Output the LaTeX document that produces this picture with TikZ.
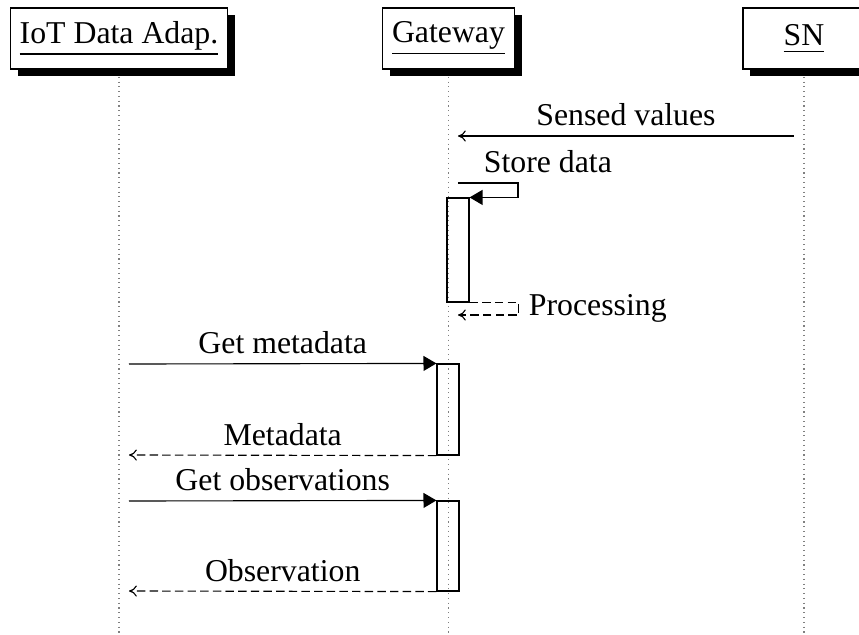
\documentclass[tikz,border=0pt]{standalone}
\usepackage{fontspec}
\setmainfont{Liberation Serif}
\usepackage{tikz}
\usetikzlibrary{arrows.meta}
\usetikzlibrary{shadows}

\begin{document}
\begin{tikzpicture}[x=0.0125cm,y=-0.0125cm,font=\fontsize{11.3}{13}\selectfont,
  actor/.style={draw,fill=white,minimum width=1.525cm,minimum height=0.7625cm,
    drop shadow={shadow xshift=0.09cm,shadow yshift=-0.09cm,fill=black,opacity=1}},
  life/.style={gray,dash pattern=on 0.4pt off 1.3pt},
  act/.style={draw,minimum width=0.275cm,inner sep=0pt},
  call/.style={-{Triangle[length=4.6pt,width=5.3pt]}},
  sig/.style={-{To[length=2.8pt,width=4pt]}},
  ret/.style={dash pattern=on 3pt off 1.5pt,-{To[length=2.8pt,width=4pt]}}]
\useasboundingbox (0,0) rectangle (859,635);
\node[actor] (iot) at (119,38.5) {\underline{IoT Data Adap.}};
\node[actor] (gw) at (448.5,38.5) {\underline{Gateway}};
\node[actor] (sn) at (804,38.5) {\underline{SN\rule[-0.8pt]{0pt}{0pt}}};
\coordinate (end) at (0,635);
\draw[life] ([yshift=-0.09cm]iot.south) -- (iot |- end);
\draw[life] ([yshift=-0.09cm]gw.south) -- (gw |- end);
\draw[life] ([yshift=-0.09cm]sn.south) -- (sn |- end);
% activations
\node[act,minimum height=1.3cm] (act1) at (458,250) {};
\node[act,minimum height=1.1375cm] (act2) at (448,409.5) {};
\node[act,minimum height=1.125cm] (act3) at (448,546) {};
% messages
\coordinate (sv) at (794,136);
\draw[sig] (sv) -- (sv -| act1) node[midway,above] (svl) {Sensed values};
\coordinate (sd) at (458,183);
\draw[call] (sd) -- ++(60,0) |- (act1.north east);
\node[above right] (sdl) at (474,183) {Store data};
\coordinate (pr) at (458,315);
\draw[ret] (act1.south east) -- ++(49,0) |- (pr);
\node[right] (prl) at (519,308) {Processing};
\coordinate (gm) at (129,364);
\draw[call] (gm) -- (act2.north west) node[midway,above] (gml) {Get metadata};
\coordinate (md) at (129,455);
\draw[ret] (act2.south west) -- (md) node[midway,above] (mdl) {Metadata};
\coordinate (go) at (129,501);
\draw[call] (go) -- (act3.north west) node[midway,above] (gol) {Get observations};
\coordinate (ob) at (129,591);
\draw[ret] (act3.south west) -- (ob) node[midway,above] (obl) {Observation};
\end{tikzpicture}
\end{document}
